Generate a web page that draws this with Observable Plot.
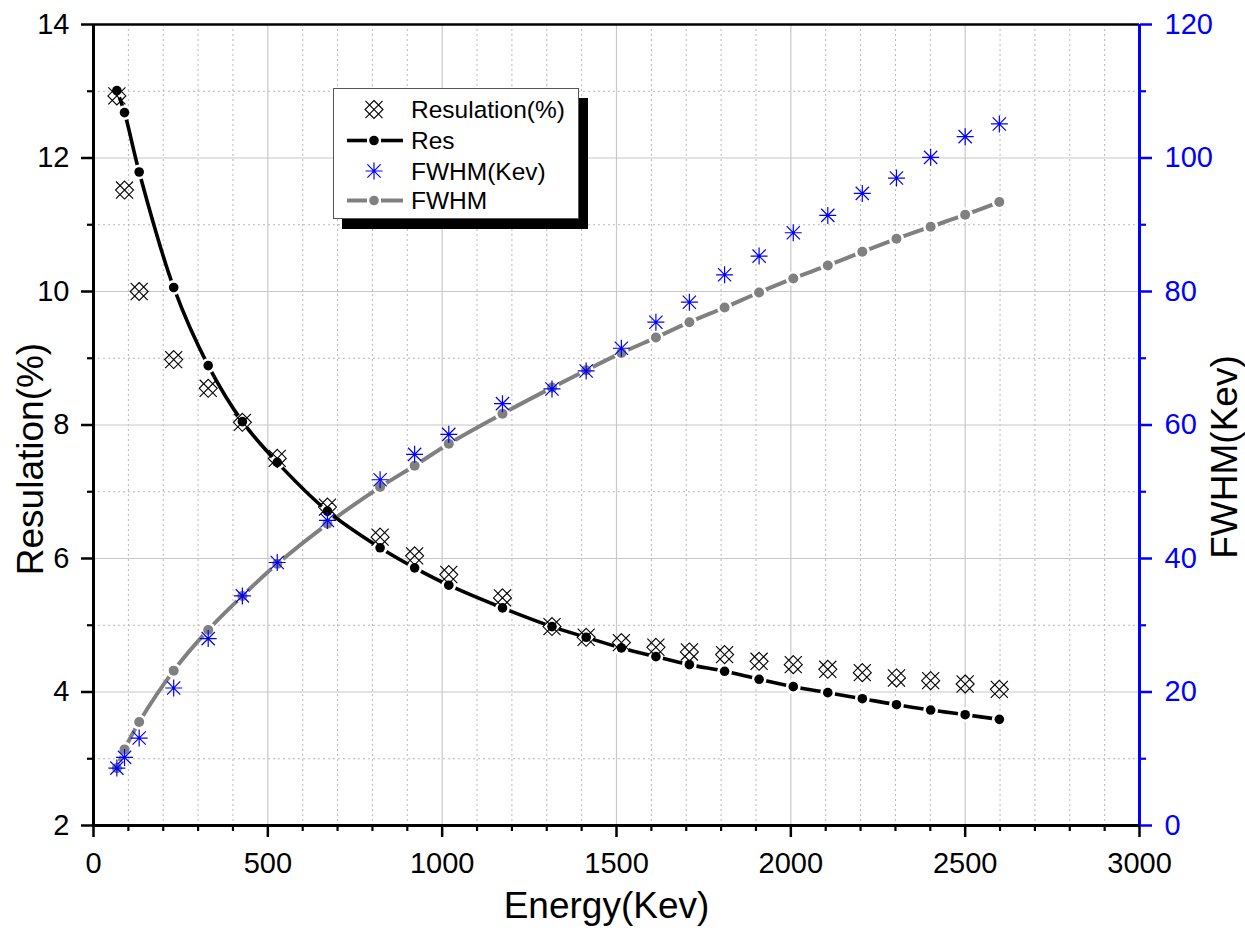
<!DOCTYPE html>
<html><head><meta charset="utf-8">
<script src="https://cdn.jsdelivr.net/npm/d3@7"></script>
<script src="https://cdn.jsdelivr.net/npm/@observablehq/plot@0.6"></script>
<style>
body{margin:0;background:#fff;font-family:"Liberation Sans",Arial,sans-serif;}
#wrap{position:relative;width:1245px;height:932px;background:#fff;}
#legend{position:absolute;left:333px;top:88px;width:244px;height:129px;background:#fff;border:1px solid #555;box-shadow:9px 10px 0 #000;}
#legend svg{display:block;}
</style></head><body><div id="wrap"></div>
<script>
// ---- data ----
const energy = [67, 89, 131, 230, 329, 427, 527, 671, 822, 921, 1019, 1173, 1315, 1413, 1514, 1613, 1709, 1810, 1909, 2007, 2106, 2205, 2303, 2401, 2500, 2598];
const resulationPct = [12.93, 11.52, 10.00, 8.98, 8.55, 8.04, 7.50, 6.77, 6.32, 6.04, 5.76, 5.41, 4.98, 4.82, 4.74, 4.67, 4.60, 4.56, 4.46, 4.41, 4.34, 4.29, 4.21, 4.17, 4.12, 4.04];
const resFit = [13.01, 12.68, 11.79, 10.06, 8.89, 8.05, 7.44, 6.71, 6.16, 5.86, 5.60, 5.26, 4.98, 4.82, 4.66, 4.53, 4.41, 4.31, 4.19, 4.08, 3.99, 3.90, 3.81, 3.73, 3.66, 3.59];
const fwhmKev = [8.6, 10.2, 13.1, 20.6, 28.0, 34.4, 39.4, 45.7, 51.8, 55.6, 58.6, 63.2, 65.4, 68.1, 71.5, 75.4, 78.4, 82.5, 85.3, 88.8, 91.4, 94.7, 97.0, 100.1, 103.2, 105.1];
const fwhmFit = [8.6, 11.4, 15.5, 23.2, 29.3, 34.4, 39.2, 45.2, 50.7, 53.9, 57.2, 61.7, 65.6, 68.2, 70.8, 73.1, 75.4, 77.6, 79.85, 81.95, 83.9, 85.95, 87.9, 89.7, 91.5, 93.4];

const xMajor = [0, 500, 1000, 1500, 2000, 2500, 3000];
const xMinor = d3.range(0, 3001, 100).filter(v => v % 500 !== 0);
const yMajor = [2, 4, 6, 8, 10, 12, 14];
const yMinor = [3, 5, 7, 9, 11, 13];
const rightDomain = [0, 120];
const leftDomain = [2, 14];

// right axis (0..120) mapped onto the left scale (2..14)
const toLeft = v => leftDomain[0] + (v - rightDomain[0]) * (leftDomain[1] - leftDomain[0]) / (rightDomain[1] - rightDomain[0]);
const fromLeft = v => Math.round((v - leftDomain[0]) * (rightDomain[1] - rightDomain[0]) / (leftDomain[1] - leftDomain[0]) + rightDomain[0]);

const rows = energy.map((e, i) => ({e, res: resulationPct[i], resFit: resFit[i], fwhm: toLeft(fwhmKev[i]), fwhmFit: toLeft(fwhmFit[i])}));

// custom symbols
const crossDiamond = {draw(ctx, size) {
  const r = Math.sqrt(size / Math.PI);
  ctx.moveTo(0, -r); ctx.lineTo(r, 0); ctx.lineTo(0, r); ctx.lineTo(-r, 0); ctx.closePath();
  const k = r * 0.95;
  ctx.moveTo(-k, -k); ctx.lineTo(k, k);
  ctx.moveTo(-k, k); ctx.lineTo(k, -k);
}};
const star8 = {draw(ctx, size) {
  const r = Math.sqrt(size / Math.PI);
  const k = r * 0.78;
  ctx.moveTo(0, -r); ctx.lineTo(0, r);
  ctx.moveTo(-r, 0); ctx.lineTo(r, 0);
  ctx.moveTo(-k, -k); ctx.lineTo(k, k);
  ctx.moveTo(-k, k); ctx.lineTo(k, -k);
}};

const FONT = '"Liberation Sans", Arial, sans-serif';
const BLUE = "#0000ff";
const GRAY = "#808080";

const chart = Plot.plot({
  width: 1245, height: 932,
  marginLeft: 93, marginRight: 106, marginTop: 24, marginBottom: 107,
  style: {fontFamily: FONT, fontSize: "29px", background: "#fff", overflow: "visible"},
  x: {domain: [0, 3000]},
  y: {domain: leftDomain},
  marks: [
    Plot.gridX(xMinor, {stroke: "#b8b8b8", strokeOpacity: 1, strokeDasharray: "2,3", strokeWidth: 1}),
    Plot.gridY(yMinor, {stroke: "#b8b8b8", strokeOpacity: 1, strokeDasharray: "2,3", strokeWidth: 1}),
    Plot.gridX(xMajor, {stroke: "#c8c8c8", strokeOpacity: 1, strokeWidth: 1.2}),
    Plot.gridY(yMajor, {stroke: "#c8c8c8", strokeOpacity: 1, strokeWidth: 1.2}),

    Plot.line(rows, {x: "e", y: "fwhmFit", stroke: GRAY, strokeWidth: 4, curve: "catmull-rom"}),
    Plot.dot(rows, {x: "e", y: "fwhmFit", r: 7.6, fill: "#fff"}),
    Plot.dot(rows, {x: "e", y: "fwhmFit", r: 5, fill: GRAY}),

    Plot.line(rows, {x: "e", y: "resFit", stroke: "#000", strokeWidth: 3.6, curve: "catmull-rom"}),
    Plot.dot(rows, {x: "e", y: "resFit", r: 7.4, fill: "#fff"}),
    Plot.dot(rows, {x: "e", y: "resFit", r: 4.8, fill: "#000"}),

    Plot.dot(rows, {x: "e", y: "res", symbol: crossDiamond, r: 9, stroke: "#000", strokeWidth: 1.1, fill: "none"}),
    Plot.dot(rows, {x: "e", y: "fwhm", symbol: star8, r: 8.5, stroke: BLUE, strokeWidth: 1.2, fill: "none"}),

    // frame lines
    Plot.ruleY([14], {stroke: "#000", strokeWidth: 2.5}),
    Plot.ruleY([2], {stroke: "#000", strokeWidth: 3}),
    Plot.ruleX([0], {stroke: "#000", strokeWidth: 3}),
    Plot.ruleX([3000], {stroke: BLUE, strokeWidth: 3}),

    // bottom axis
    Plot.axisX(xMinor, {anchor: "bottom", tickSize: 6, strokeWidth: 2.2, tickFormat: () => "", label: null}),
    Plot.axisX(xMajor, {anchor: "bottom", tickSize: 12, tickPadding: 15, strokeWidth: 2.5, tickFormat: d => String(d), fontSize: 29, label: null}),
    // left axis
    Plot.axisY(yMinor, {anchor: "left", tickSize: 6, strokeWidth: 2.2, tickFormat: () => "", label: null}),
    Plot.axisY(yMajor, {anchor: "left", tickSize: 12, tickPadding: 12, strokeWidth: 2.5, tickFormat: d => String(d), fontSize: 29, label: null}),
    // right axis (FWHM)
    Plot.axisY(yMinor, {anchor: "right", tickSize: 6, strokeWidth: 2.2, color: BLUE, tickFormat: () => "", label: null}),
    Plot.axisY(yMajor, {anchor: "right", tickSize: 12, tickPadding: 13, strokeWidth: 2.5, color: BLUE, tickFormat: d => String(fromLeft(d)), fontSize: 29, label: null}),

    // axis titles
    Plot.text(["Energy(Kev)"], {text: d => d, frameAnchor: "bottom", textAnchor: "middle", dx: -10, dy: 92, fontSize: 37, fill: "#000"}),
    Plot.text(["Resulation(%)"], {text: d => d, frameAnchor: "left", textAnchor: "middle", dx: -62, dy: 34, rotate: -90, fontSize: 37, fill: "#000"}),
    Plot.text(["FWHM(Kev)"], {text: d => d, frameAnchor: "right", textAnchor: "middle", dx: 86, dy: 32, rotate: -90, fontSize: 37, fill: "#000"})
  ]
});
const wrap = document.getElementById("wrap");
wrap.appendChild(chart);

// legend
const legendItems = [
  {label: "Resulation(%)", kind: "cross"},
  {label: "Res", kind: "lineBlack"},
  {label: "FWHM(Kev)", kind: "star"},
  {label: "FWHM", kind: "lineGray"}
];
const rowY = [20.5, 51.5, 82, 111.5];
const lg = document.createElement("div");
lg.id = "legend";
const ns = "http://www.w3.org/2000/svg";
const svg = document.createElementNS(ns, "svg");
svg.setAttribute("width", 244); svg.setAttribute("height", 129);
legendItems.forEach((it, i) => {
  const y = rowY[i];
  const g = document.createElementNS(ns, "g");
  if (it.kind === "cross" || it.kind === "star") {
    const p = document.createElementNS(ns, "path");
    const r = it.kind === "cross" ? 9 : 8.5;
    p.setAttribute("d", d3.symbol(it.kind === "cross" ? crossDiamond : star8, r * r * Math.PI)());
    p.setAttribute("transform", `translate(40,${y})`);
    p.setAttribute("fill", "none");
    p.setAttribute("stroke", it.kind === "cross" ? "#000" : BLUE);
    p.setAttribute("stroke-width", it.kind === "cross" ? 1.1 : 1.2);
    g.appendChild(p);
  } else {
    const col = it.kind === "lineBlack" ? "#000" : GRAY;
    const sw = it.kind === "lineBlack" ? 3.6 : 4;
    for (const [a, b] of [[13, 33], [47, 69]]) {
      const l = document.createElementNS(ns, "line");
      l.setAttribute("x1", a); l.setAttribute("x2", b); l.setAttribute("y1", y); l.setAttribute("y2", y);
      l.setAttribute("stroke", col); l.setAttribute("stroke-width", sw);
      g.appendChild(l);
    }
    const c = document.createElementNS(ns, "circle");
    c.setAttribute("cx", 40); c.setAttribute("cy", y); c.setAttribute("r", 4.8); c.setAttribute("fill", col);
    g.appendChild(c);
  }
  const t = document.createElementNS(ns, "text");
  t.setAttribute("x", 77); t.setAttribute("y", y + 8.5);
  t.setAttribute("font-family", FONT); t.setAttribute("font-size", "24.5px"); t.setAttribute("fill", "#000");
  t.textContent = it.label;
  g.appendChild(t);
  svg.appendChild(g);
});
lg.appendChild(svg);
wrap.appendChild(lg);
</script>
</body></html>
